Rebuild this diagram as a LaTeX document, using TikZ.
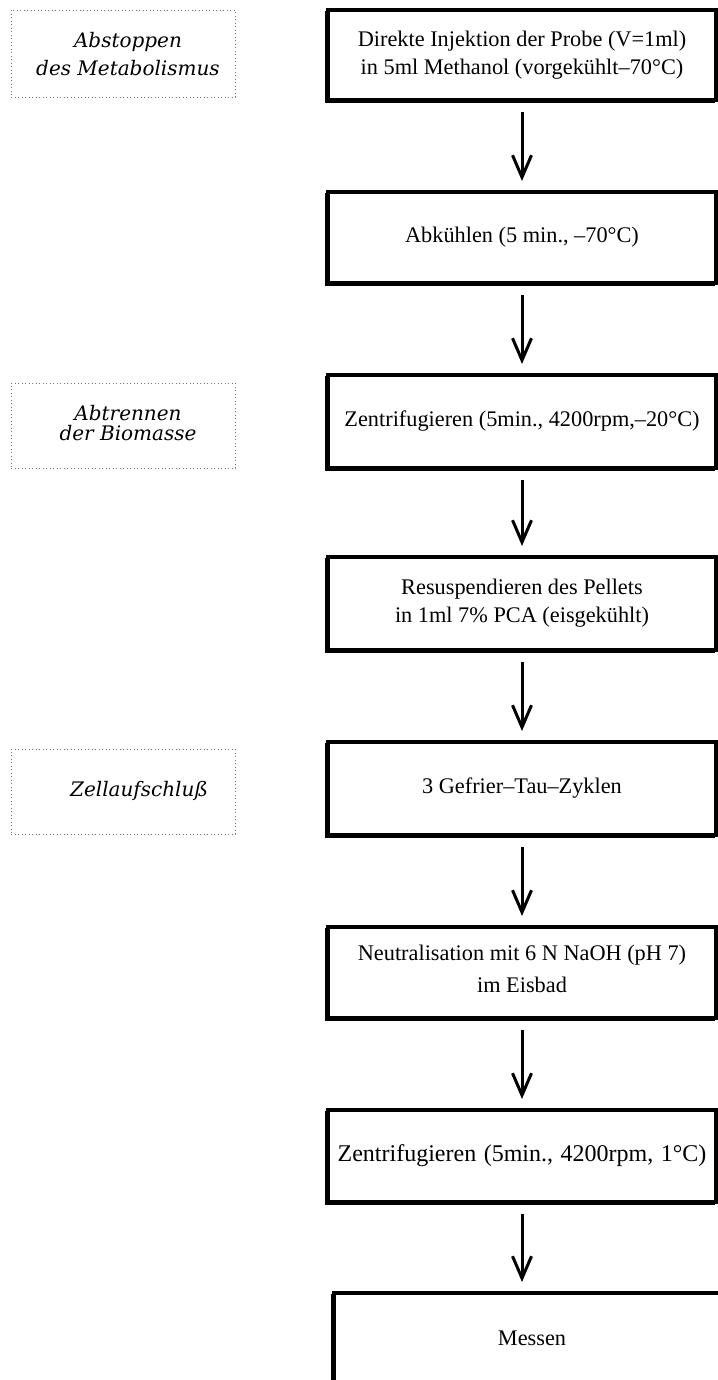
\documentclass[tikz,border=0pt]{standalone}
\usepackage{fontspec}
\setmainfont{Liberation Serif}
\newfontfamily\lblfont{DejaVu Serif}
\usetikzlibrary{arrows.meta}
\newcommand\widewordspace{\spaceskip=7.5pt plus 2pt\relax}
\begin{document}
\begin{tikzpicture}[x=1pt,y=-1pt,
  stepbox/.style={draw, line width=3.3pt, rectangle, inner sep=0pt, outer sep=0pt, minimum width=388pt,
    font=\fontsize{22.3}{28}\selectfont, align=center},
  shadowline/.style={line width=3.3pt, transform canvas={shift={(-1.3,1.3)}}},
  phase/.style={draw=black!55, line width=0.9pt, dash pattern=on 0.9pt off 2.6pt, rectangle,
    inner sep=0pt, minimum width=224pt},
  phasetext/.style={inner sep=0pt, font=\lblfont\itshape\fontsize{20}{28}\selectfont, align=center},
  flow/.style={line width=3pt, -{Straight Barb[length=22pt,width=19pt,line width=3pt]},
    shorten <=12pt, shorten >=11pt}]
\useasboundingbox (0,0) rectangle (717,1380);
% process boxes
\node[stepbox, minimum height=90pt] (s1) at (522,55) {Direkte Injektion der Probe (V=1ml)\\ in 5ml Methanol (vorgekühlt–70°C)};
\node[stepbox, minimum height=91pt] (s2) at (522,237.5) {Abkühlen (5 min., –70°C)};
\node[stepbox, minimum height=93pt] (s3) at (522,421.5) {Zentrifugieren (5min., 4200rpm,–20°C)};
\node[stepbox, minimum height=93pt] (s4) at (522,603.5) {Resuspendieren des Pellets\\ in 1ml 7\% PCA (eisgekühlt)};
\node[stepbox, minimum height=93pt] (s5) at (522,788.5) {3 Gefrier–Tau–Zyklen};
\node[stepbox, minimum height=91pt] (s6) at (522,972.5) {Neutralisation mit 6 N NaOH (pH 7)\\[4pt] im Eisbad\rule[-8pt]{0pt}{0pt}};
\node[stepbox, minimum height=92pt, font=\fontsize{24}{28}\selectfont\widewordspace] (s7) at (522,1156) {Zentrifugieren (5min., 4200rpm, 1°C)};
\node[stepbox, minimum width=396pt, minimum height=127pt,
  label={[font=\fontsize{22.3}{28}\selectfont, yshift=18pt]center:Messen}] (s8) at (532,1356.5) {};
\foreach \n in {s1,s2,s3,s4,s5,s6,s7}
  \draw[shadowline] (\n.north west) -- (\n.south west) -- (\n.south east);
\draw[shadowline] (s8.north west) -- (s8.south west);
% phase labels
\node[phase, minimum height=87pt] (p1) at (123,53.5) {};
\node[phasetext] (t1) at (128,54) {Abstoppen\\ des Metabolismus};
\node[phase, minimum height=85pt] (p2) at (123,425.5) {};
\node[phasetext, font=\lblfont\itshape\fontsize{20}{20}\selectfont] (t2) at (128,423) {Abtrennen\\ der Biomasse};
\node[phase, minimum height=85pt] (p3) at (123,791.5) {};
\node[phasetext] (t3) at (139,791) {Zellaufschluß};
% arrows
\draw[flow] (s1) -- (s2);
\draw[flow] (s2) -- (s3);
\draw[flow] (s3) -- (s4);
\draw[flow] (s4) -- (s5);
\draw[flow] (s5) -- (s6);
\draw[flow] (s6) -- (s7);
\draw[flow] (s7.south -| s6) -- (s8.north -| s6);
\end{tikzpicture}
\end{document}
